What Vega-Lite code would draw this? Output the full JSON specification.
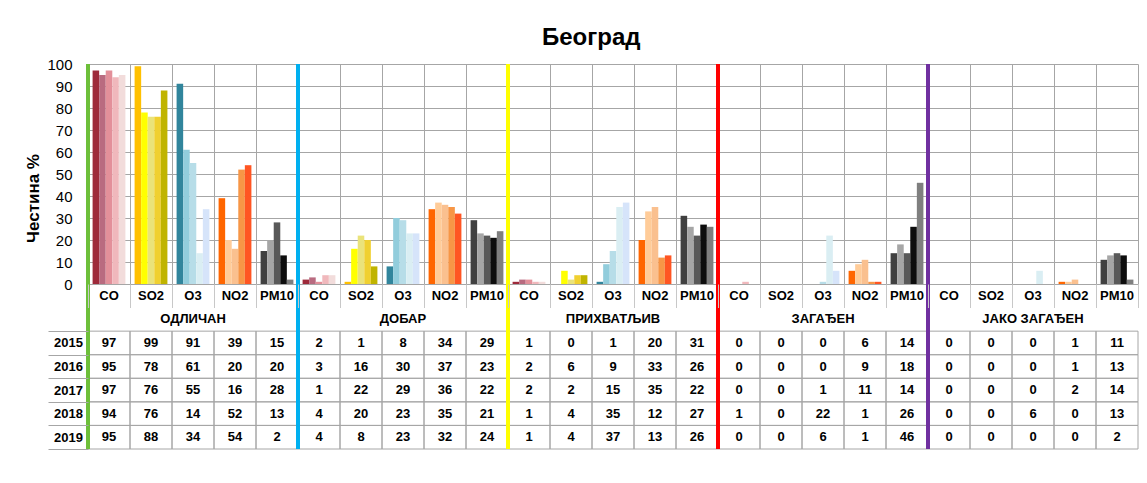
{
  "$schema": "https://vega.github.io/schema/vega-lite/v6.json",
  "background": "white",
  "padding": {"left": 24, "top": 26, "right": 8, "bottom": 5},
  "title": {"text": "Београд", "fontSize": 24, "font": "Liberation Sans", "fontWeight": "bold", "color": "#000000", "anchor": "middle", "offset": 7, "dx": 10},
  "spacing": 0,
  "bounds": "flush",
  "config": {"view": {"stroke": null}, "font": "Liberation Sans"},
  "datasets": {
    "d": [
      {"g":"ОДЛИЧАН","p":"CO","y":"2015","v":97},{"g":"ОДЛИЧАН","p":"CO","y":"2016","v":95},{"g":"ОДЛИЧАН","p":"CO","y":"2017","v":97},{"g":"ОДЛИЧАН","p":"CO","y":"2018","v":94},{"g":"ОДЛИЧАН","p":"CO","y":"2019","v":95},
      {"g":"ОДЛИЧАН","p":"SO2","y":"2015","v":99},{"g":"ОДЛИЧАН","p":"SO2","y":"2016","v":78},{"g":"ОДЛИЧАН","p":"SO2","y":"2017","v":76},{"g":"ОДЛИЧАН","p":"SO2","y":"2018","v":76},{"g":"ОДЛИЧАН","p":"SO2","y":"2019","v":88},
      {"g":"ОДЛИЧАН","p":"O3","y":"2015","v":91},{"g":"ОДЛИЧАН","p":"O3","y":"2016","v":61},{"g":"ОДЛИЧАН","p":"O3","y":"2017","v":55},{"g":"ОДЛИЧАН","p":"O3","y":"2018","v":14},{"g":"ОДЛИЧАН","p":"O3","y":"2019","v":34},
      {"g":"ОДЛИЧАН","p":"NO2","y":"2015","v":39},{"g":"ОДЛИЧАН","p":"NO2","y":"2016","v":20},{"g":"ОДЛИЧАН","p":"NO2","y":"2017","v":16},{"g":"ОДЛИЧАН","p":"NO2","y":"2018","v":52},{"g":"ОДЛИЧАН","p":"NO2","y":"2019","v":54},
      {"g":"ОДЛИЧАН","p":"PM10","y":"2015","v":15},{"g":"ОДЛИЧАН","p":"PM10","y":"2016","v":20},{"g":"ОДЛИЧАН","p":"PM10","y":"2017","v":28},{"g":"ОДЛИЧАН","p":"PM10","y":"2018","v":13},{"g":"ОДЛИЧАН","p":"PM10","y":"2019","v":2},
      {"g":"ДОБАР","p":"CO","y":"2015","v":2},{"g":"ДОБАР","p":"CO","y":"2016","v":3},{"g":"ДОБАР","p":"CO","y":"2017","v":1},{"g":"ДОБАР","p":"CO","y":"2018","v":4},{"g":"ДОБАР","p":"CO","y":"2019","v":4},
      {"g":"ДОБАР","p":"SO2","y":"2015","v":1},{"g":"ДОБАР","p":"SO2","y":"2016","v":16},{"g":"ДОБАР","p":"SO2","y":"2017","v":22},{"g":"ДОБАР","p":"SO2","y":"2018","v":20},{"g":"ДОБАР","p":"SO2","y":"2019","v":8},
      {"g":"ДОБАР","p":"O3","y":"2015","v":8},{"g":"ДОБАР","p":"O3","y":"2016","v":30},{"g":"ДОБАР","p":"O3","y":"2017","v":29},{"g":"ДОБАР","p":"O3","y":"2018","v":23},{"g":"ДОБАР","p":"O3","y":"2019","v":23},
      {"g":"ДОБАР","p":"NO2","y":"2015","v":34},{"g":"ДОБАР","p":"NO2","y":"2016","v":37},{"g":"ДОБАР","p":"NO2","y":"2017","v":36},{"g":"ДОБАР","p":"NO2","y":"2018","v":35},{"g":"ДОБАР","p":"NO2","y":"2019","v":32},
      {"g":"ДОБАР","p":"PM10","y":"2015","v":29},{"g":"ДОБАР","p":"PM10","y":"2016","v":23},{"g":"ДОБАР","p":"PM10","y":"2017","v":22},{"g":"ДОБАР","p":"PM10","y":"2018","v":21},{"g":"ДОБАР","p":"PM10","y":"2019","v":24},
      {"g":"ПРИХВАТЉИВ","p":"CO","y":"2015","v":1},{"g":"ПРИХВАТЉИВ","p":"CO","y":"2016","v":2},{"g":"ПРИХВАТЉИВ","p":"CO","y":"2017","v":2},{"g":"ПРИХВАТЉИВ","p":"CO","y":"2018","v":1},{"g":"ПРИХВАТЉИВ","p":"CO","y":"2019","v":1},
      {"g":"ПРИХВАТЉИВ","p":"SO2","y":"2015","v":0},{"g":"ПРИХВАТЉИВ","p":"SO2","y":"2016","v":6},{"g":"ПРИХВАТЉИВ","p":"SO2","y":"2017","v":2},{"g":"ПРИХВАТЉИВ","p":"SO2","y":"2018","v":4},{"g":"ПРИХВАТЉИВ","p":"SO2","y":"2019","v":4},
      {"g":"ПРИХВАТЉИВ","p":"O3","y":"2015","v":1},{"g":"ПРИХВАТЉИВ","p":"O3","y":"2016","v":9},{"g":"ПРИХВАТЉИВ","p":"O3","y":"2017","v":15},{"g":"ПРИХВАТЉИВ","p":"O3","y":"2018","v":35},{"g":"ПРИХВАТЉИВ","p":"O3","y":"2019","v":37},
      {"g":"ПРИХВАТЉИВ","p":"NO2","y":"2015","v":20},{"g":"ПРИХВАТЉИВ","p":"NO2","y":"2016","v":33},{"g":"ПРИХВАТЉИВ","p":"NO2","y":"2017","v":35},{"g":"ПРИХВАТЉИВ","p":"NO2","y":"2018","v":12},{"g":"ПРИХВАТЉИВ","p":"NO2","y":"2019","v":13},
      {"g":"ПРИХВАТЉИВ","p":"PM10","y":"2015","v":31},{"g":"ПРИХВАТЉИВ","p":"PM10","y":"2016","v":26},{"g":"ПРИХВАТЉИВ","p":"PM10","y":"2017","v":22},{"g":"ПРИХВАТЉИВ","p":"PM10","y":"2018","v":27},{"g":"ПРИХВАТЉИВ","p":"PM10","y":"2019","v":26},
      {"g":"ЗАГАЂЕН","p":"CO","y":"2015","v":0},{"g":"ЗАГАЂЕН","p":"CO","y":"2016","v":0},{"g":"ЗАГАЂЕН","p":"CO","y":"2017","v":0},{"g":"ЗАГАЂЕН","p":"CO","y":"2018","v":1},{"g":"ЗАГАЂЕН","p":"CO","y":"2019","v":0},
      {"g":"ЗАГАЂЕН","p":"SO2","y":"2015","v":0},{"g":"ЗАГАЂЕН","p":"SO2","y":"2016","v":0},{"g":"ЗАГАЂЕН","p":"SO2","y":"2017","v":0},{"g":"ЗАГАЂЕН","p":"SO2","y":"2018","v":0},{"g":"ЗАГАЂЕН","p":"SO2","y":"2019","v":0},
      {"g":"ЗАГАЂЕН","p":"O3","y":"2015","v":0},{"g":"ЗАГАЂЕН","p":"O3","y":"2016","v":0},{"g":"ЗАГАЂЕН","p":"O3","y":"2017","v":1},{"g":"ЗАГАЂЕН","p":"O3","y":"2018","v":22},{"g":"ЗАГАЂЕН","p":"O3","y":"2019","v":6},
      {"g":"ЗАГАЂЕН","p":"NO2","y":"2015","v":6},{"g":"ЗАГАЂЕН","p":"NO2","y":"2016","v":9},{"g":"ЗАГАЂЕН","p":"NO2","y":"2017","v":11},{"g":"ЗАГАЂЕН","p":"NO2","y":"2018","v":1},{"g":"ЗАГАЂЕН","p":"NO2","y":"2019","v":1},
      {"g":"ЗАГАЂЕН","p":"PM10","y":"2015","v":14},{"g":"ЗАГАЂЕН","p":"PM10","y":"2016","v":18},{"g":"ЗАГАЂЕН","p":"PM10","y":"2017","v":14},{"g":"ЗАГАЂЕН","p":"PM10","y":"2018","v":26},{"g":"ЗАГАЂЕН","p":"PM10","y":"2019","v":46},
      {"g":"ЈАКО ЗАГАЂЕН","p":"CO","y":"2015","v":0},{"g":"ЈАКО ЗАГАЂЕН","p":"CO","y":"2016","v":0},{"g":"ЈАКО ЗАГАЂЕН","p":"CO","y":"2017","v":0},{"g":"ЈАКО ЗАГАЂЕН","p":"CO","y":"2018","v":0},{"g":"ЈАКО ЗАГАЂЕН","p":"CO","y":"2019","v":0},
      {"g":"ЈАКО ЗАГАЂЕН","p":"SO2","y":"2015","v":0},{"g":"ЈАКО ЗАГАЂЕН","p":"SO2","y":"2016","v":0},{"g":"ЈАКО ЗАГАЂЕН","p":"SO2","y":"2017","v":0},{"g":"ЈАКО ЗАГАЂЕН","p":"SO2","y":"2018","v":0},{"g":"ЈАКО ЗАГАЂЕН","p":"SO2","y":"2019","v":0},
      {"g":"ЈАКО ЗАГАЂЕН","p":"O3","y":"2015","v":0},{"g":"ЈАКО ЗАГАЂЕН","p":"O3","y":"2016","v":0},{"g":"ЈАКО ЗАГАЂЕН","p":"O3","y":"2017","v":0},{"g":"ЈАКО ЗАГАЂЕН","p":"O3","y":"2018","v":6},{"g":"ЈАКО ЗАГАЂЕН","p":"O3","y":"2019","v":0},
      {"g":"ЈАКО ЗАГАЂЕН","p":"NO2","y":"2015","v":1},{"g":"ЈАКО ЗАГАЂЕН","p":"NO2","y":"2016","v":1},{"g":"ЈАКО ЗАГАЂЕН","p":"NO2","y":"2017","v":2},{"g":"ЈАКО ЗАГАЂЕН","p":"NO2","y":"2018","v":0},{"g":"ЈАКО ЗАГАЂЕН","p":"NO2","y":"2019","v":0},
      {"g":"ЈАКО ЗАГАЂЕН","p":"PM10","y":"2015","v":11},{"g":"ЈАКО ЗАГАЂЕН","p":"PM10","y":"2016","v":13},{"g":"ЈАКО ЗАГАЂЕН","p":"PM10","y":"2017","v":14},{"g":"ЈАКО ЗАГАЂЕН","p":"PM10","y":"2018","v":13},{"g":"ЈАКО ЗАГАЂЕН","p":"PM10","y":"2019","v":2}
    ],
    "sep": [{"g":"ОДЛИЧАН"},{"g":"ДОБАР"},{"g":"ПРИХВАТЉИВ"},{"g":"ЗАГАЂЕН"},{"g":"ЈАКО ЗАГАЂЕН"}]
  },
  "vconcat": [
    {
      "width": 1050,
      "height": 220,
      "layer": [
        {
          "data": {"name": "d"},
          "transform": [
            {"calculate": "datum.g + '|' + datum.p", "as": "col"},
            {"calculate": "datum.p + '-' + datum.y", "as": "ck"}
          ],
          "mark": {"type": "bar"},
          "encoding": {
            "x": {"field": "col", "type": "nominal",
              "scale": {"domain": ["ОДЛИЧАН|CO","ОДЛИЧАН|SO2","ОДЛИЧАН|O3","ОДЛИЧАН|NO2","ОДЛИЧАН|PM10","ДОБАР|CO","ДОБАР|SO2","ДОБАР|O3","ДОБАР|NO2","ДОБАР|PM10","ПРИХВАТЉИВ|CO","ПРИХВАТЉИВ|SO2","ПРИХВАТЉИВ|O3","ПРИХВАТЉИВ|NO2","ПРИХВАТЉИВ|PM10","ЗАГАЂЕН|CO","ЗАГАЂЕН|SO2","ЗАГАЂЕН|O3","ЗАГАЂЕН|NO2","ЗАГАЂЕН|PM10","ЈАКО ЗАГАЂЕН|CO","ЈАКО ЗАГАЂЕН|SO2","ЈАКО ЗАГАЂЕН|O3","ЈАКО ЗАГАЂЕН|NO2","ЈАКО ЗАГАЂЕН|PM10"], "paddingInner": 0, "paddingOuter": 0},
              "axis": {"title": null, "labels": false, "ticks": false, "domain": false, "grid": true, "tickBand": "extent", "gridColor": "#A6A6A6", "gridWidth": 1}},
            "xOffset": {"field": "y", "type": "nominal", "scale": {"paddingInner": 0, "paddingOuter": 0.7}},
            "y": {"field": "v", "type": "quantitative",
              "scale": {"domain": [0, 100], "nice": false},
              "axis": {"title": "Честина %", "values": [0,10,20,30,40,50,60,70,80,90,100], "grid": true, "gridColor": "#A6A6A6", "domain": false, "ticks": false, "labelPadding": 16, "labelFontSize": 15, "labelColor": "#000000", "labelFont": "Liberation Sans", "titleFontSize": 17, "titleFontWeight": "bold", "titleColor": "#000000", "titleFont": "Liberation Sans", "titleBaseline": "middle", "titleX": -55, "titleY": 134}},
            "color": {"field": "ck", "type": "nominal", "legend": null,
              "scale": {
                "domain": ["CO-2015","CO-2016","CO-2017","CO-2018","CO-2019","SO2-2015","SO2-2016","SO2-2017","SO2-2018","SO2-2019","O3-2015","O3-2016","O3-2017","O3-2018","O3-2019","NO2-2015","NO2-2016","NO2-2017","NO2-2018","NO2-2019","PM10-2015","PM10-2016","PM10-2017","PM10-2018","PM10-2019"],
                "range": ["#9E2A3A","#B96B80","#E3909A","#F0B8BC","#F2DCDB","#FFC000","#FFFF00","#EAE37A","#F0D030","#C0B400","#31859C","#92CDDC","#B7DDE8","#DAEEF3","#D6E4FA","#FF6600","#FFCC99","#FAC08F","#F79646","#FF5522","#404040","#A6A6A6","#595959","#0D0D0D","#7F7F7F"]
              }}
          }
        },
        {
          "data": {"name": "sep"},
          "transform": [{"calculate": "datum.g + '|CO'", "as": "col"}],
          "mark": {"type": "rule", "strokeWidth": 4},
          "encoding": {
            "x": {"field": "col", "type": "nominal", "bandPosition": 0},
            "stroke": {"field": "g", "type": "nominal", "legend": null,
              "scale": {"domain": ["ОДЛИЧАН","ДОБАР","ПРИХВАТЉИВ","ЗАГАЂЕН","ЈАКО ЗАГАЂЕН"], "range": ["#6DBF3A","#00B0F0","#FFFF00","#FF0000","#7030A0"]}}
          }
        }
      ]
    },
    {
      "width": 1050,
      "height": 165,
      "data": {"name": "d"},
      "transform": [{"calculate": "datum.g + '|' + datum.p", "as": "col"}],
      "encoding": {
        "x": {"field": "col", "type": "nominal",
          "scale": {"domain": ["ОДЛИЧАН|CO","ОДЛИЧАН|SO2","ОДЛИЧАН|O3","ОДЛИЧАН|NO2","ОДЛИЧАН|PM10","ДОБАР|CO","ДОБАР|SO2","ДОБАР|O3","ДОБАР|NO2","ДОБАР|PM10","ПРИХВАТЉИВ|CO","ПРИХВАТЉИВ|SO2","ПРИХВАТЉИВ|O3","ПРИХВАТЉИВ|NO2","ПРИХВАТЉИВ|PM10","ЗАГАЂЕН|CO","ЗАГАЂЕН|SO2","ЗАГАЂЕН|O3","ЗАГАЂЕН|NO2","ЗАГАЂЕН|PM10","ЈАКО ЗАГАЂЕН|CO","ЈАКО ЗАГАЂЕН|SO2","ЈАКО ЗАГАЂЕН|O3","ЈАКО ЗАГАЂЕН|NO2","ЈАКО ЗАГАЂЕН|PM10"], "paddingInner": 0, "paddingOuter": 0},
          "axis": {"orient": "top", "title": null, "labels": false, "ticks": true, "tickBand": "extent", "tickSize": -23.5, "tickColor": "#C8C8C8", "domain": false, "grid": false}}
      },
      "layer": [
        {
          "mark": {"type": "rect", "fill": "transparent", "stroke": "#A6A6A6", "strokeWidth": 1},
          "encoding": {
            "y": {"field": "y", "type": "nominal",
              "scale": {"domain": ["p","g","2015","2016","2017","2018","2019"], "paddingInner": 0, "paddingOuter": 0},
              "axis": {"title": null, "values": ["2015","2016","2017","2018","2019"], "tickBand": "extent", "tickSize": 40, "tickColor": "#A6A6A6", "domain": false, "grid": false, "labelPadding": -20, "labelAlign": "center", "labelFontWeight": "bold", "labelFontSize": 13, "labelColor": "#000000", "labelFont": "Liberation Sans"}}
          }
        },
        {
          "mark": {"type": "text", "fontSize": 13, "fontWeight": "bold", "color": "#000000", "font": "Liberation Sans"},
          "encoding": {
            "y": {"field": "y", "type": "nominal"},
            "text": {"field": "v", "type": "quantitative"}
          }
        },
        {
          "transform": [{"filter": "datum.y == '2015'"}],
          "mark": {"type": "text", "fontSize": 13, "fontWeight": "bold", "color": "#000000", "font": "Liberation Sans"},
          "encoding": {
            "y": {"datum": "p", "type": "nominal"},
            "text": {"field": "p", "type": "nominal"}
          }
        },
        {
          "transform": [{"filter": "datum.y == '2015' && datum.p == 'O3'"}],
          "mark": {"type": "text", "fontSize": 13, "fontWeight": "bold", "color": "#000000", "font": "Liberation Sans"},
          "encoding": {
            "y": {"datum": "g", "type": "nominal"},
            "text": {"field": "g", "type": "nominal"}
          }
        },
        {
          "data": {"name": "sep"},
          "transform": [{"calculate": "datum.g + '|CO'", "as": "col"}],
          "mark": {"type": "rule", "strokeWidth": 4},
          "encoding": {
            "x": {"field": "col", "type": "nominal", "bandPosition": 0},
            "stroke": {"field": "g", "type": "nominal", "legend": null,
              "scale": {"domain": ["ОДЛИЧАН","ДОБАР","ПРИХВАТЉИВ","ЗАГАЂЕН","ЈАКО ЗАГАЂЕН"], "range": ["#6DBF3A","#00B0F0","#FFFF00","#FF0000","#7030A0"]}}
          }
        }
      ]
    }
  ]
}
